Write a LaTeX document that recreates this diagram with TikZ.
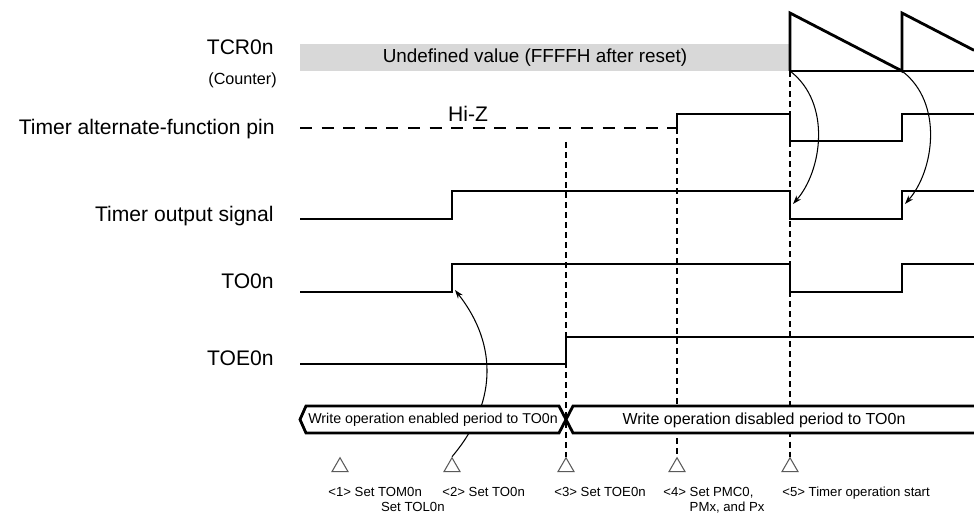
\documentclass[tikz,border=0pt]{standalone}
\usepackage{fontspec}
\setmainfont{Liberation Sans}
\definecolor{undefgray}{RGB}{216,216,216}
\definecolor{markgray}{RGB}{90,90,90}
\usetikzlibrary{arrows.meta,positioning,shapes.geometric}

\begin{document}
\begin{tikzpicture}[x=0.02cm, y=-0.02cm,
    sig/.style={line width=1.6pt, line join=miter},
    hiz/.style={sig, dash pattern=on 6.8pt off 5.5pt},
    base/.style={line width=0.6pt},
    guide/.style={line width=0.6pt, dash pattern=on 3.4pt off 2.3pt},
    arr/.style={-{Stealth[length=5pt,width=3.4pt]}, line width=0.6pt},
    period/.style={line width=1.6pt, line join=miter, fill=white},
    lbl/.style={font=\fontsize{12}{14}\selectfont, inner sep=0pt},
    sublbl/.style={font=\fontsize{9.2}{11}\selectfont, inner sep=0pt},
    tri/.style={regular polygon, regular polygon sides=3, draw=markgray,
                line width=0.6pt, inner sep=0pt, minimum size=0.37cm},
    steptxt/.style={font=\fontsize{7.5}{8.6}\selectfont, inner sep=0pt, align=left}
  ]
  \useasboundingbox (0,0) rectangle (974,513);

  \fill[undefgray] (300,44) rectangle (790,71);
  \node[font=\fontsize{10.75}{12}\selectfont, inner sep=0pt] (undef) at (535,58)
    {Undefined value (FFFFH after reset)};
  \coordinate (cnt1) at (790,71);
  \coordinate (cnt2) at (902,71);
  \draw[base] (cnt1) -- (974,71);
  \draw[sig] (cnt1) -- (790,13) -- (cnt2) -- (902,13) -- (974,50.3);

  \node[tri] (t1) at (340,467) {};
  \node[tri] (t2) at (452,467) {};
  \node[tri] (t3) at (566,467) {};
  \node[tri] (t4) at (677,467) {};
  \node[tri] (t5) at (790,467) {};

  \coordinate (g3) at (566,142);
  \coordinate (g4) at (677,128);
  \draw[guide] (g3) -- (t3.north);
  \draw[guide] (g4) -- (t4.north);
  \draw[guide] (cnt1) -- (t5.north);

  \draw[hiz] (300,128) -- (g4);
  \draw[sig] (g4) -- (677,114) -- (790,114) -- (790,141) -- (902,141) -- (902,114) -- (974,114);
  \node[lbl, anchor=base] (hiz) at (468,122) {Hi-Z};
  \draw[sig] (300,219) -- (452,219) -- (452,191) -- (790,191) -- (790,219) -- (902,219) -- (902,191) -- (974,191);
  \draw[sig] (300,292) -- (452,292) -- (452,264) -- (790,264) -- (790,292) -- (902,292) -- (902,264) -- (974,264);
  \draw[sig] (300,364) -- (566,364) -- (566,337) -- (974,337);

  \coordinate (to2) at (455,290);
  \coordinate (tos1) at (793,204);
  \coordinate (tos2) at (905,204);
  \draw[arr] (cnt1) .. controls (832,103) and (822,171) .. (tos1);
  \draw[arr] (cnt2) .. controls (944,103) and (934,171) .. (tos2);
  \draw[arr] (t2.north) .. controls (496,405) and (499,346) .. (to2);

  \draw[period] (300,419.5) -- (306,406) -- (559,406) -- (566,419.5) -- (559,433) -- (306,433) -- cycle;
  \draw[period] (974,406) -- (573,406) -- (566,419.5) -- (573,433) -- (974,433);
  \node[font=\fontsize{8.1}{10}\selectfont, inner sep=0pt] (wen) at (433,420)
    {Write operation enabled period to TO0n};
  \node[font=\fontsize{9.1}{11}\selectfont, inner sep=0pt] (wdis) at (764,420)
    {Write operation disabled period to TO0n};

  \node[steptxt, anchor=north west] (s1) at (328,487) {<1> Set TOM0n\\\hphantom{<1> <1> }Set TOL0n};
  \node[steptxt, anchor=north west] (s2) at (442,487) {<2> Set TO0n};
  \node[steptxt, anchor=north west] (s3) at (554,487) {<3> Set TOE0n};
  \node[steptxt, anchor=north west] (s4) at (663,487) {<4> Set PMC0,\\\hphantom{<4> }PMx, and Px};
  \node[steptxt, anchor=north west] (s5) at (782,487) {<5> Timer operation start};

  \node[lbl, anchor=base east] (lbltcr) at (274,55) {TCR0n};
  \node[sublbl, anchor=base east] (lblcnt) at (277,85) {(Counter)};
  \node[lbl, anchor=base east] (lblpin) at (275,135) {Timer alternate-function pin};
  \node[lbl, anchor=base east] (lblout) at (274,222) {Timer output signal};
  \node[lbl, anchor=base east] (lblto) at (274,289) {TO0n};
  \node[lbl, anchor=base east] (lbltoe) at (274,365) {TOE0n};
\end{tikzpicture}
\end{document}
